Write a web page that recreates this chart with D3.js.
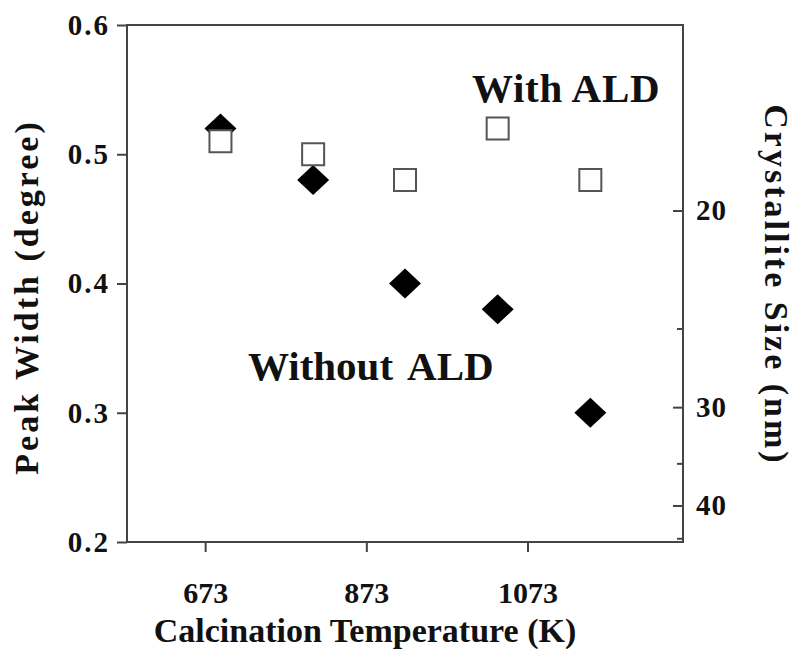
<!DOCTYPE html>
<html>
<head>
<meta charset="utf-8">
<script src="https://cdn.jsdelivr.net/npm/d3@7"></script>
<style>
  body { margin: 0; background: #fff; }
  text { font-family: "Liberation Serif", "Times New Roman", serif; font-weight: bold; fill: #111; }
</style>
</head>
<body>
<div id="chart"></div>
<script>
/* DATA */
const temps = [692, 807, 921, 1036, 1151];          // calcination temperature (K)
const withALD = [0.51, 0.50, 0.48, 0.52, 0.48];      // peak width (degree), open squares
const withoutALD = [0.52, 0.48, 0.40, 0.38, 0.30];   // peak width (degree), filled diamonds
const tempTicks = [673, 873, 1073];
const widthTicks = [0.2, 0.3, 0.4, 0.5, 0.6];
const sizeTicks = [20, 30, 40];
const sizeMinorTicks = [25, 35, 45];
const scherrerK = 9.13; // crystallite size (nm) = K / peak width

/* CONSTANTS */
const width = 799,
  height = 649,
  margin = { top: 25, right: 116, bottom: 107, left: 127 };

const svg = d3.select("#chart")
  .append("svg")
  .attr("width", width)
  .attr("height", height);

const xScale = d3.scaleLinear()
  .domain([576, 1266])
  .range([margin.left, width - margin.right]);

const yScale = d3.scaleLinear()
  .domain([0.2, 0.6])
  .range([height - margin.bottom, margin.top]);

// frame
svg.append("rect")
  .attr("x", margin.left)
  .attr("y", margin.top)
  .attr("width", width - margin.left - margin.right)
  .attr("height", height - margin.top - margin.bottom)
  .attr("fill", "none")
  .attr("stroke", "#444")
  .attr("stroke-width", 2);

// AXES
const xAxis = d3.axisBottom(xScale)
  .tickValues(tempTicks)
  .tickSizeInner(10).tickSizeOuter(0).tickPadding(30)
  .tickFormat(d3.format("d"));

const yAxis = d3.axisLeft(yScale)
  .tickValues(widthTicks)
  .tickSizeInner(10).tickSizeOuter(0).tickPadding(7)
  .tickFormat(d3.format(".1f"));

// right axis: crystallite size, placed on the peak width scale
const sizeAxis = d3.axisRight(yScale)
  .tickValues(sizeTicks.map(s => scherrerK / s))
  .tickSizeInner(-10).tickSizeOuter(0).tickPadding(13)
  .tickFormat(w => Math.round(scherrerK / w));

const sizeMinorAxis = d3.axisRight(yScale)
  .tickValues(sizeMinorTicks.map(s => scherrerK / s))
  .tickSizeInner(-6).tickSizeOuter(0)
  .tickFormat("");

function styleAxis(g, fontSize, spacing) {
  g.select(".domain").remove();
  g.selectAll(".tick line").attr("stroke", "#444").attr("stroke-width", 2);
  g.selectAll(".tick text")
    .attr("font-family", null)
    .style("font-size", fontSize + "px")
    .style("letter-spacing", spacing + "px")
    .attr("fill", "#111");
}

svg.append("g")
  .attr("transform", `translate(0,${height - margin.bottom})`)
  .call(xAxis)
  .call(g => styleAxis(g, 30, 0));

svg.append("g")
  .attr("transform", `translate(${margin.left},0)`)
  .call(yAxis)
  .call(g => styleAxis(g, 29, 2));

svg.append("g")
  .attr("transform", `translate(${width - margin.right},0)`)
  .call(sizeAxis)
  .call(g => styleAxis(g, 29, 1));

svg.append("g")
  .attr("transform", `translate(${width - margin.right},0)`)
  .call(sizeMinorAxis)
  .call(g => styleAxis(g, 29, 0));

// axis titles
svg.append("text")
  .attr("x", 365)
  .attr("y", 642)
  .attr("text-anchor", "middle")
  .style("font-size", "34px")
  .text("Calcination Temperature (K)");

svg.append("text")
  .attr("transform", "translate(38,297) rotate(-90)")
  .attr("text-anchor", "middle")
  .style("font-size", "34px")
  .style("letter-spacing", "3px")
  .text("Peak Width (degree)");

svg.append("text")
  .attr("transform", "translate(765,285) rotate(90)")
  .attr("text-anchor", "middle")
  .style("font-size", "34px")
  .style("letter-spacing", "3px")
  .text("Crystallite Size (nm)");

// MARKS
const diamond = {
  draw(ctx, size) {
    const rx = 16, ry = 15;
    ctx.moveTo(0, -ry);
    ctx.lineTo(rx, 0);
    ctx.lineTo(0, ry);
    ctx.lineTo(-rx, 0);
    ctx.closePath();
  }
};

svg.append("g")
  .selectAll("path")
  .data(d3.zip(temps, withoutALD))
  .join("path")
  .attr("transform", d => `translate(${xScale(d[0])},${yScale(d[1])})`)
  .attr("d", d3.symbol(diamond))
  .attr("fill", "#000");

svg.append("g")
  .selectAll("path")
  .data(d3.zip(temps, withALD))
  .join("path")
  .attr("transform", d => `translate(${xScale(d[0])},${yScale(d[1])})`)
  .attr("d", d3.symbol(d3.symbolSquare, 22 * 22))
  .attr("fill", "#fff")
  .attr("stroke", "#555")
  .attr("stroke-width", 2);

// series labels
svg.append("text")
  .attr("x", 472)
  .attr("y", 102)
  .style("font-size", "41px")
  .style("letter-spacing", "0.7px")
  .text("With ALD");

svg.append("text")
  .attr("x", 248)
  .attr("y", 380)
  .style("font-size", "41px")
  .style("word-spacing", "6px")
  .text("Without ALD");
</script>
</body>
</html>
